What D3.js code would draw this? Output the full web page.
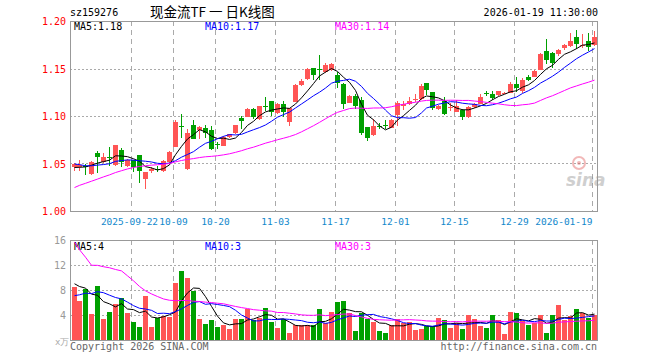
<!DOCTYPE html>
<html>
<head>
<meta charset="utf-8">
<script src="https://cdn.jsdelivr.net/npm/d3@7"></script>
<style>
  body { margin: 0; background: #fff; }
  text { font-family: "DejaVu Sans Mono", monospace; font-size: 10px; }
</style>
</head>
<body>
<svg id="chart" width="660" height="360"></svg>
<script>
// trading days shown (2025-09-08 .. 2026-01-19)
const dates = [
  "09-08","09-09","09-10","09-11","09-12","09-15","09-16","09-17","09-18","09-19",
  "09-22","09-23","09-24","09-25","09-26","09-29","09-30",
  "10-09","10-10","10-13","10-14","10-15","10-16","10-17","10-20","10-21","10-22","10-23","10-24",
  "10-27","10-28","10-29","10-30","10-31",
  "11-03","11-04","11-05","11-06","11-07","11-10","11-11","11-12","11-13","11-14",
  "11-17","11-18","11-19","11-20","11-21","11-24","11-25","11-26","11-27","11-28",
  "12-01","12-02","12-03","12-04","12-05","12-08","12-09","12-10","12-11","12-12",
  "12-15","12-16","12-17","12-18","12-19","12-22","12-23","12-24","12-25","12-26",
  "12-29","12-30","12-31",
  "01-05","01-06","01-07","01-08","01-09","01-12","01-13","01-14","01-15","01-16","01-19"
];

const openP = [
  1.046,1.046,1.0475,1.039,1.061,1.052,1.0565,1.048,1.064,1.0475,
  1.0535,1.059,1.0335,1.042,1.044,1.042,1.052,
  1.068,1.089,1.044,1.091,1.085,1.0878,1.0853,1.0705,1.0685,1.078,1.0815,1.098,
  1.099,1.1075,1.0965,1.1105,1.1155,
  1.104,1.113,1.0935,1.1155,1.1325,1.1385,1.1505,1.149,1.1458,1.149,
  1.143,1.1337,1.1146,1.1215,1.117,1.088,1.0799,1.089,1.0907,1.0875,
  1.1014,1.110,1.1128,1.117,1.1177,1.1351,1.1253,1.1073,1.1163,1.109,
  1.1049,1.1066,1.099,1.1094,1.1135,1.1243,1.1233,1.1222,1.1243,1.1247,
  1.1337,1.1257,1.1413,
  1.1413,1.149,1.1684,1.1667,1.1656,1.1708,1.1733,1.183,1.1747,1.1788,1.1743
];
const closeP = [
  1.049,1.048,1.046,1.052,1.057,1.057,1.0555,1.069,1.051,1.0535,
  1.046,1.042,1.041,1.044,1.043,1.053,1.062,
  1.094,1.088,1.082,1.076,1.088,1.0825,1.065,1.070,1.078,1.081,1.090,1.0945,
  1.107,1.0995,1.1105,1.110,1.104,
  1.113,1.105,1.108,1.133,1.1365,1.1495,1.1435,1.148,1.1535,1.1552,
  1.1344,1.1128,1.1215,1.1108,1.0823,1.0764,1.0892,1.0888,1.0904,1.096,
  1.1142,1.1125,1.1163,1.1177,1.1316,1.1274,1.1083,1.1101,1.1031,1.1094,
  1.1108,1.0997,1.1094,1.1128,1.1205,1.124,1.1188,1.1264,1.1247,1.1337,
  1.1292,1.1378,1.1386,
  1.1476,1.1656,1.1587,1.1563,1.1698,1.1743,1.1788,1.1753,1.175,1.1726,1.183
];
const highP = [
  1.051,1.054,1.049,1.053,1.063,1.061,1.067,1.069,1.066,1.0545,
  1.0535,1.059,1.041,1.046,1.047,1.0535,1.063,
  1.0955,1.102,1.086,1.0955,1.089,1.091,1.089,1.0725,1.079,1.0815,1.091,1.1005,
  1.1085,1.1085,1.1105,1.120,1.1155,
  1.114,1.116,1.1085,1.134,1.1385,1.1505,1.1505,1.1645,1.156,1.156,
  1.1465,1.1344,1.122,1.123,1.1205,1.088,1.097,1.093,1.096,1.097,
  1.1153,1.1153,1.1205,1.123,1.1337,1.1351,1.1253,1.1118,1.1198,1.1142,
  1.117,1.1076,1.1101,1.1135,1.1233,1.1264,1.1264,1.1264,1.1257,1.1362,
  1.1413,1.1403,1.143,
  1.1483,1.1663,1.1813,1.1674,1.1708,1.176,1.1872,1.1906,1.1865,1.1872,1.190
];
const lowP = [
  1.042,1.042,1.0375,1.038,1.040,1.051,1.0475,1.0475,1.046,1.046,
  1.0415,1.030,1.023,1.040,1.041,1.0415,1.051,
  1.067,1.077,1.043,1.0755,1.0755,1.077,1.064,1.065,1.068,1.077,1.081,1.086,
  1.0985,1.0965,1.096,1.105,1.100,
  1.102,1.099,1.089,1.115,1.1315,1.138,1.138,1.138,1.1448,1.1476,
  1.129,1.1076,1.1135,1.1076,1.0795,1.0736,1.079,1.0865,1.0865,1.087,
  1.090,1.1066,1.1118,1.115,1.117,1.1222,1.1066,1.1059,1.1014,1.1049,
  1.1038,1.0955,1.0983,1.1083,1.1132,1.1215,1.117,1.1215,1.123,1.1237,
  1.1257,1.124,1.1372,
  1.1406,1.1483,1.1552,1.1507,1.1632,1.1691,1.1726,1.1708,1.1715,1.1684,1.1733
];
// volume, 10k units
const volume = [
  8.5,6.3,8.2,4.2,8.6,3.4,4.5,5.8,6.8,4.3,
  2.9,2.1,7.0,2.1,3.5,3.9,3.7,
  9.2,11.0,9.9,7.8,3.4,2.6,3.2,2.1,2.4,1.8,3.4,3.4,
  5.0,3.2,3.6,5.1,2.9,
  1.9,3.4,1.1,2.4,2.4,2.4,2.4,5.0,2.7,4.5,
  6.1,6.3,4.3,1.5,4.4,3.3,2.9,1.5,1.2,2.4,
  3.4,2.8,2.9,1.6,1.8,2.2,2.2,3.5,3.2,1.9,
  2.7,1.8,4.0,3.4,2.2,1.9,4.0,3.2,1.0,4.5,
  4.3,3.1,2.4,
  2.8,4.0,1.1,4.0,5.6,3.2,3.8,5.0,4.3,3.6,4.0
];
// 29 sessions before the window, only used to seed the moving averages
const prevClose = [
  0.978,0.982,0.985,0.990,0.988,0.992,0.995,0.993,0.998,1.000,
  1.010,1.018,1.025,1.030,1.036,1.040,1.042,1.045,1.048,1.050,
  1.055,1.058,1.052,1.050,1.051,1.047,1.044,1.043,1.046
];
const prevVolume = [
  43,44,43,9,10,9.5,14,13.5,28,27,
  29,28,17,16,15.5,10,11,10.5,10,11,
  5,5.5,5,5.5,5,8.5,9.5,9,9.5
];

const tickDays   = ["09-22","10-09","10-20","11-03","11-17","12-01","12-15","12-29","01-19"];
const tickLabels = ["2025-09-22","10-09","10-20","11-03","11-17","12-01","12-15","12-29","2026-01-19"];
const priceTicks = [1.00, 1.05, 1.10, 1.15, 1.20];
const volTicks = [4, 8, 12, 16];

const maPeriods = [5, 10, 30];
const maColors = ["#000000", "#0000ff", "#ff00ff"];

const UP = "#ff5555", DOWN = "#00a000", GRID = "#aaaaaa", FRAME = "#999999";

window.addEventListener("load", main);

function movingAverage(series, prev, n) {
  const all = prev.concat(series);
  const off = prev.length;
  return series.map((d, i) => {
    const s = all.slice(off + i - n + 1, off + i + 1);
    return d3.mean(s);
  });
}

function main() {
  const svg = d3.select("#chart");
  const left = 70, right = 597;
  const pTop = 21, pBot = 211, vTop = 240, vBot = 340;

  const x = d3.scaleLinear().domain([0, dates.length - 1]).range([73.5, 594]);
  const cx = i => Math.round(x(i)) + 0.5;
  const yP = d3.scaleLinear().domain([1.00, 1.20]).range([pBot, pTop]);
  const yV = d3.scaleLinear().domain([0, 16]).range([vBot, vTop]);

  // header
  svg.append("text").attr("x", 70).attr("y", 16).text("sz159276");
  svg.append("text").attr("x", 150).attr("y", 17)
    .attr("xml:space", "preserve")
    .style("font-family", "'Noto Sans CJK SC', sans-serif").style("font-size", "13.5px")
    .style("white-space", "pre")
    .text("现金流TF 一 日K线图");
  svg.append("text").attr("x", 598).attr("y", 16).attr("text-anchor", "end")
    .text("2026-01-19 11:30:00");

  // horizontal grid
  svg.selectAll(".pgrid").data(priceTicks.filter(t => t > 1.0 && t < 1.2)).enter()
    .append("line")
    .attr("x1", left).attr("x2", right)
    .attr("y1", d => Math.round(yP(d)) + 0.5).attr("y2", d => Math.round(yP(d)) + 0.5)
    .style("stroke", GRID).style("stroke-dasharray", "2,2");
  svg.selectAll(".vgrid").data(volTicks.filter(t => t < 16)).enter()
    .append("line")
    .attr("x1", left).attr("x2", right)
    .attr("y1", d => Math.round(yV(d)) + 0.5).attr("y2", d => Math.round(yV(d)) + 0.5)
    .style("stroke", GRID).style("stroke-dasharray", "2,2");

  // vertical dashed grid at tick dates
  const tickIdx = tickDays.map(d => dates.indexOf(d));
  [[pTop, pBot], [vTop, vBot]].forEach(([t, b]) => {
    svg.selectAll(null).data(tickIdx).enter()
      .append("line")
      .attr("x1", d => cx(d) - 2).attr("x2", d => cx(d) - 2)
      .attr("y1", t).attr("y2", b)
      .style("stroke", GRID).style("stroke-dasharray", "5,4");
  });

  // date labels (last one is pulled in so it ends on its grid line)
  svg.selectAll(".dlab").data(tickIdx).enter()
    .append("text")
    .attr("x", (d, i) => i === 0 ? cx(d) - 4 : cx(d) - 2)
    .attr("y", 225)
    .attr("text-anchor", (d, i) => i === tickIdx.length - 1 ? "end" : "middle")
    .style("fill", "#1188cc").style("font-size", "9.5px")
    .text((d, i) => tickLabels[i]);

  // axis labels
  svg.selectAll(".plab").data(priceTicks).enter()
    .append("text")
    .attr("x", 66).attr("y", d => yP(d) + 4).attr("text-anchor", "end")
    .style("fill", "#ff0000")
    .text(d => d.toFixed(2));
  svg.selectAll(".vlab").data(volTicks).enter()
    .append("text")
    .attr("x", 66).attr("y", d => yV(d) + 4).attr("text-anchor", "end")
    .style("fill", "#999")
    .text(d => d);
  svg.append("text").attr("x", 55).attr("y", 345).style("fill", "#aaa").style("font-size", "9px")
    .text("x万");

  // sina watermark
  const wm = svg.append("g").style("opacity", 0.4);
  wm.append("circle").attr("cx", 579).attr("cy", 163).attr("r", 6)
    .style("fill", "none").style("stroke", "#e05050").style("stroke-width", 2);
  wm.append("circle").attr("cx", 579).attr("cy", 163).attr("r", 2).style("fill", "#e05050");
  wm.append("text").attr("x", 566).attr("y", 186)
    .style("font-family", "'DejaVu Sans', sans-serif").style("font-size", "17px")
    .style("font-weight", "bold").style("font-style", "italic").style("fill", "#888")
    .text("sina");

  // candles
  const idx = d3.range(dates.length);
  const isUp = i => closeP[i] >= openP[i];
  const cg = svg.append("g").attr("shape-rendering", "crispEdges");
  cg.selectAll(".wick").data(idx).enter()
    .append("line")
    .attr("x1", cx).attr("x2", cx)
    .attr("y1", i => yP(highP[i])).attr("y2", i => yP(lowP[i]))
    .style("stroke", i => isUp(i) ? UP : DOWN);
  cg.selectAll(".body").data(idx).enter()
    .append("rect")
    .attr("x", i => cx(i) - 2.5).attr("width", 5)
    .attr("y", i => Math.round(yP(Math.max(openP[i], closeP[i]))))
    .attr("height", i => Math.max(1, Math.round(Math.abs(yP(openP[i]) - yP(closeP[i])))))
    .style("fill", i => isUp(i) ? UP : DOWN);

  // volume bars
  cg.selectAll(".vol").data(idx).enter()
    .append("rect")
    .attr("x", i => cx(i) - 2.5).attr("width", 5)
    .attr("y", i => Math.round(yV(volume[i])))
    .attr("height", i => vBot - Math.round(yV(volume[i])))
    .style("fill", i => isUp(i) ? UP : DOWN);

  // moving averages
  const line = (yScale) => d3.line().x((d, i) => cx(i)).y(d => yScale(d));
  maPeriods.forEach((n, k) => {
    const mp = movingAverage(closeP, prevClose, n);
    const mv = movingAverage(volume, prevVolume, n);
    svg.append("path").datum(mp).attr("d", line(yP))
      .style("fill", "none").style("stroke", maColors[k]).style("stroke-width", 1);
    svg.append("path").datum(mv).attr("d", line(yV))
      .style("fill", "none").style("stroke", maColors[k]).style("stroke-width", 1);
    const lx = [74, 205, 335][k];
    svg.append("text").attr("x", lx).attr("y", 30).style("fill", maColors[k])
      .text("MA" + n + ":" + mp[mp.length - 1].toFixed(2));
    svg.append("text").attr("x", lx).attr("y", 250).style("fill", maColors[k])
      .text("MA" + n + ":" + Math.floor(mv[mv.length - 1]));
  });

  // frames
  [[pTop, pBot], [vTop, vBot]].forEach(([t, b]) => {
    svg.append("rect").attr("x", left + 0.5).attr("y", t + 0.5)
      .attr("width", right - left).attr("height", b - t)
      .style("fill", "none").style("stroke", FRAME);
  });

  // footer
  svg.append("text").attr("x", 70).attr("y", 350).style("fill", "#666")
    .text("Copyright 2026 SINA.COM");
  svg.append("text").attr("x", 597).attr("y", 350).attr("text-anchor", "end").style("fill", "#666")
    .text("http://finance.sina.com.cn");
}
</script>
</body>
</html>
